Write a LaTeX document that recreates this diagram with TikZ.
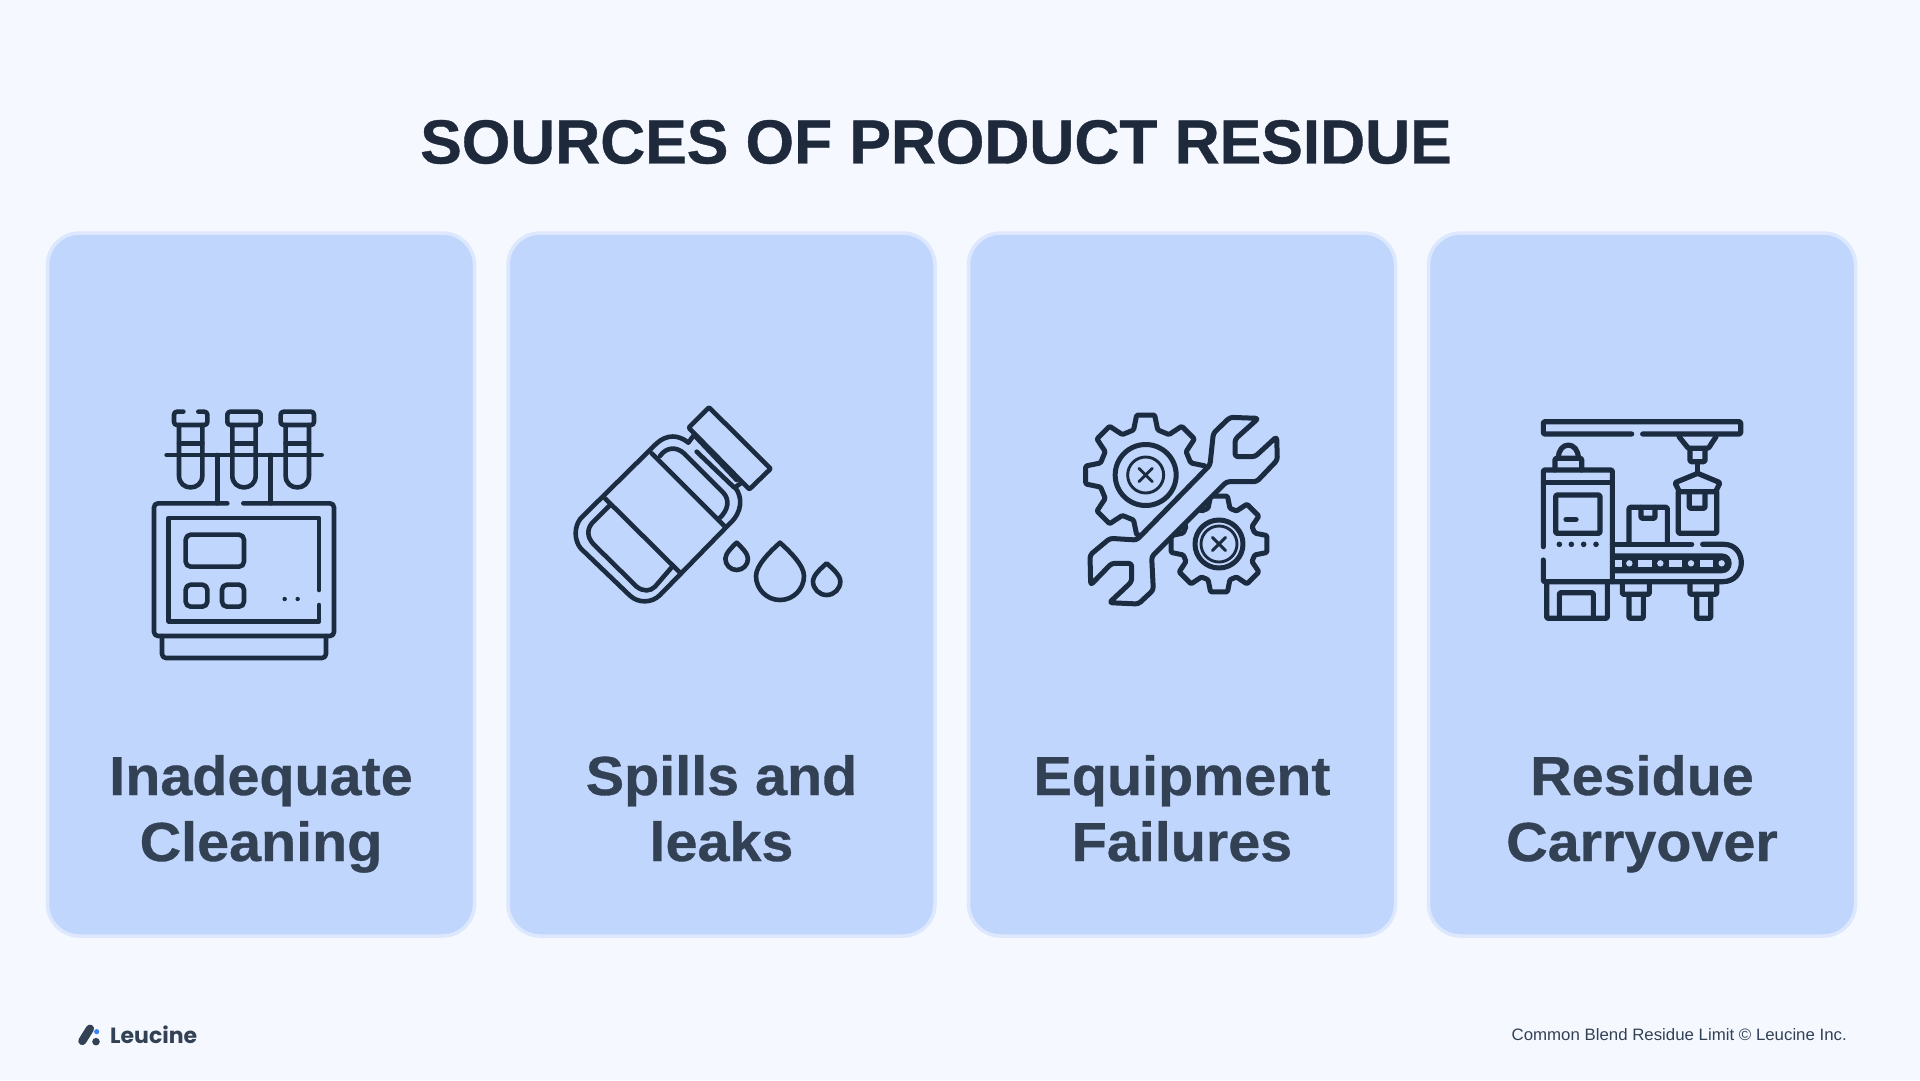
\documentclass[tikz,border=0pt]{standalone}
\usepackage{fontspec}
\setmainfont{Liberation Sans}[FakeStretch=1.02]
\newfontfamily\logofont{Poppins}
\newfontfamily\headfont{Liberation Sans}[BoldFeatures={FakeStretch=1.045,FakeBold=0.6}]
\newfontfamily\titlefont{Liberation Sans}[BoldFeatures={FakeBold=0.6}]
\definecolor{pagebg}{HTML}{F5F9FF}
\definecolor{cardfill}{HTML}{C1D6FD}
\definecolor{cardedge}{HTML}{DDE8FE}
\definecolor{inkdark}{HTML}{1E293B}
\definecolor{inkmid}{HTML}{334155}
\definecolor{iconink}{HTML}{1B2B40}
\definecolor{logoblue}{HTML}{3B82F6}
\tikzset{
  card/.style={draw=cardedge,fill=cardfill,line width=3.5pt,rounded corners=32pt,minimum width=427pt,minimum height=703pt,anchor=center,inner sep=0pt},
  cardlabel/.style={text=inkmid,align=center,font=\headfont\fontsize{55}{66}\selectfont\bfseries,inner sep=0pt,text height=106pt,text depth=0pt},
  iconline/.style={draw=iconink,line width=4.6pt,line cap=round,line join=round},
  thinline/.style={draw=iconink,line width=2.9pt,line cap=round,line join=round},
  zoomed/.style={x=0.33333pt,y=-0.33333pt}
}
% teardrop: centre x, tip y, half width, bottom y
\newcommand{\dropshape}[4]{%
  \pgfmathsetmacro{\dl}{#1-#3}\pgfmathsetmacro{\dr}{#1+#3}%
  \pgfmathsetmacro{\dm}{#4-#3}%
  \pgfmathsetmacro{\dk}{0.55*#3}%
  \pgfmathsetmacro{\dcl}{#1-\dk}\pgfmathsetmacro{\dcr}{#1+\dk}%
  \pgfmathsetmacro{\dbc}{#4-0.45*#3}%
  \pgfmathsetmacro{\dtc}{\dm-0.45*#3}%
  \pgfmathsetmacro{\dtl}{#1-0.4*#3}\pgfmathsetmacro{\dtr}{#1+0.4*#3}%
  \pgfmathsetmacro{\dty}{#2+0.15*(#4-#2)}%
  \draw[iconline] (#1,#2) .. controls (\dtl,\dty) and (\dl,\dtc) .. (\dl,\dm)
    .. controls (\dl,\dbc) and (\dcl,#4) .. (#1,#4)
    .. controls (\dcr,#4) and (\dr,\dbc) .. (\dr,\dm)
    .. controls (\dr,\dtc) and (\dtr,\dty) .. (#1,#2) -- cycle;
}
% gear: centre x,y; tip radius; root radius; tip half angle; base half angle
\newcommand{\gearshape}[6]{%
  \begin{scope}[shift={(#1,#2)}]
  \draw[iconline,line width=5pt,rounded corners=1.2pt] (0-#6:#4)
   \foreach \a in {0,45,...,315}{ -- ({\a-#6}:#4) -- ({\a-#5}:#3) -- ({\a+#5}:#3) -- ({\a+#6}:#4) } -- cycle;
  \end{scope}
}
\begin{document}
\begin{tikzpicture}[x=1pt,y=-1pt]
\useasboundingbox (0,0) rectangle (1920,1080);
\fill[pagebg] (0,0) rectangle (1920,1080);

\node[text=inkdark,inner sep=0pt,font=\titlefont\fontsize{62.3}{70}\selectfont\bfseries] (title) at (936,142) {SOURCES OF PRODUCT RESIDUE};

\node[card] (c1) at (261,584.5) {};
\node[card] (c2) at (721.5,584.5) {};
\node[card] (c3) at (1182,584.5) {};
\node[card] (c4) at (1642,584.5) {};

\node[cardlabel] (l1) at (261,808) {Inadequate\\Cleaning};
\node[cardlabel] (l2) at (721.5,808) {Spills and\\leaks};
\node[cardlabel] (l3) at (1182,808) {Equipment\\Failures};
\node[cardlabel] (l4) at (1642,808) {Residue\\Carryover};

% Icon 1: test tube analyser
\begin{scope}[shift={(130,390)},zoomed]
 \begin{scope}[rounded corners=3pt]
  \draw[iconline] (160,65) -- (132,65) -- (132,105) -- (232,105) -- (232,65) -- (205,65);
  \draw[iconline] (292,65) rectangle (392,105);
  \draw[iconline] (452,65) rectangle (552,105);
 \end{scope}
 \foreach \c in {182,342,502}{
  \draw[iconline] (\c-35,105) -- (\c-35,257) .. controls (\c-35,304) and (\c+35,304) .. (\c+35,257) -- (\c+35,105);
  \draw[iconline] (\c-35,160) -- (\c+35,160);
 }
 \draw[iconline] (110,195) -- (575,195);
 \draw[iconline] (262,195) -- (262,340);
 \draw[iconline] (422,195) -- (422,340);
 \draw[iconline,rounded corners=4pt] (292,340) -- (72,340) -- (72,738) -- (612,738) -- (612,340) -- (340,340);
 \draw[iconline] (567,600) -- (567,384) -- (116,384) -- (116,694) -- (567,694) -- (567,645);
 \draw[iconline,rounded corners=5pt] (167,434) rectangle (342,530);
 \draw[iconline,rounded corners=5pt] (167,584) rectangle (232,650);
 \draw[iconline,rounded corners=5pt] (276,584) rectangle (342,650);
 \fill[iconink] (464,627) circle[radius=2.2pt] (503,627) circle[radius=2.2pt];
 \draw[iconline,rounded corners=4pt] (96,738) -- (96,804) -- (588,804) -- (588,738);
\end{scope}

% Icon 2: spilling bottle
\begin{scope}[shift={(560,390)},zoomed]
 \draw[iconline,rounded corners=1pt] (447,52) -- (632,236) -- (568,298) -- (386,113) -- cycle;
 \draw[iconline] (402,135) -- (385,158) .. controls (355,133) and (320,133) .. (290,160) -- (62,385) .. controls (42,410) and (42,450) .. (62,475) -- (210,617) .. controls (235,640) and (275,640) .. (300,615) -- (510,400) .. controls (548,365) and (548,320) .. (525,292) -- (545,278);
 \draw[iconline] (402,135) -- (530,270);
 \draw[iconline] (410,185) -- (522,292);
 \draw[iconline] (300,198) .. controls (320,170) and (350,170) .. (372,190) -- (490,308) .. controls (510,330) and (505,360) .. (478,385);
 \draw[iconline] (150,345) -- (100,395) .. controls (80,415) and (80,440) .. (100,462) -- (230,590) .. controls (250,605) and (270,605) .. (285,590) -- (335,532);
 \draw[iconline] (275,190) -- (495,410);
 \draw[iconline] (135,325) -- (360,548);
 \dropshape{530}{458}{34}{540}
 \dropshape{660}{458}{72}{630}
 \dropshape{800}{520}{41}{615}
\end{scope}

% Icon 3: gears and wrench
\begin{scope}[shift={(1070,400)},zoomed]
 \begin{scope}
  \clip (500,113) -- (100,522) -- (-100,522) -- (-100,-100) -- (500,-100) -- cycle;
  \gearshape{227}{225}{182}{140}{8.5}{15}
 \end{scope}
 \begin{scope}
  \clip (600,115) -- (100,615) -- (700,700) -- (700,115) -- cycle;
  \gearshape{447}{432}{146}{112}{10}{17}
 \end{scope}
 \draw[iconline,line width=5pt] (227,225) circle[radius=30.5pt];
 \draw[thinline] (227,225) circle[radius=18pt];
 \draw[thinline] (207,205) -- (247,245) (207,245) -- (247,205);
 \draw[iconline,line width=5pt] (447,432) circle[radius=24pt];
 \draw[thinline] (447,432) circle[radius=18pt];
 \draw[thinline] (427,412) -- (467,452) (427,452) -- (467,412);
 \draw[iconline,line width=5pt,rounded corners=3pt] (565,55) -- (480,52) -- (430,100) -- (420,195) -- (200,420) -- (120,415) -- (60,465) -- (62,555) -- (125,490) -- (185,490) -- (185,545) -- (118,608) -- (205,612) -- (250,570) -- (245,470) -- (470,245) -- (560,245) -- (622,180) -- (620,110) -- (555,170) -- (495,170) -- (495,118) -- cycle;
\end{scope}

% Icon 4: conveyor line
\begin{scope}[shift={(1530,410)},zoomed]
 \begin{scope}[every path/.append style={iconline,line width=5.2pt,rounded corners=1.2pt}]
 \draw (305,72) -- (40,72) -- (40,35) -- (632,35) -- (632,72) -- (338,72);
 \draw (447,80) -- (475,115) -- (535,115) -- (558,80);
 \draw (480,115) -- (480,155) -- (525,155) -- (525,115);
 \draw (503,155) -- (503,190);
 \draw (503,190) -- (570,218) -- (557,245) -- (448,245) -- (435,218) -- cycle;
 \draw (445,245) -- (445,370) -- (560,370) -- (560,245);
 \draw (478,245) -- (478,295) -- (525,295) -- (525,245);
 \draw (297,400) -- (297,292) -- (412,292) -- (412,400);
 \draw (333,292) -- (333,325) -- (375,325) -- (375,292);
 \draw (40,410) -- (40,180) -- (247,180) -- (247,515);
 \draw (40,218) -- (247,218);
 \draw (40,450) -- (40,515) -- (578,515);
 \draw (75,180) -- (75,145) -- (155,145) -- (155,180);
 \draw (85,145) .. controls (85,92) and (145,92) .. (145,145);
 \draw (77,255) rectangle (210,370);
 \draw (108,328) -- (138,328);
 \draw (247,403) -- (485,403);
 \draw (518,403) -- (578,403) .. controls (652,403) and (652,515) .. (578,515);
 \draw (50,515) -- (50,625) -- (232,625) -- (232,515);
 \draw (88,625) -- (88,548) -- (190,548) -- (190,625);
 \draw (277,515) -- (277,553) -- (358,553) -- (358,515);
 \draw (297,553) -- (297,625) -- (340,625) -- (340,553);
 \draw (480,515) -- (480,553) -- (560,553) -- (560,515);
 \draw (500,553) -- (500,625) -- (542,625) -- (542,553);
 \end{scope}
 \fill[iconink] (88,403) circle[radius=2.8pt] (124,403) circle[radius=2.8pt] (161,403) circle[radius=2.8pt] (198,403) circle[radius=2.8pt];
 \fill[iconink] (247,430) -- (575,430) .. controls (615,430) and (615,490) .. (575,490) -- (247,490) -- cycle;
 \foreach \xa/\xb in {255/275,325/365,418/457,510/550}{
  \fill[cardfill] (\xa,449) rectangle (\xb,471);
 }
 \foreach \c in {298,391,483,575}{
  \fill[cardfill] (\c,460) circle[radius=3.2pt];
 }
\end{scope}

% Footer
\begin{scope}[shift={(60,1010)},zoomed]
 \draw[inkmid,line width=8.2pt,line cap=round] (90,56) -- (67,93);
 \fill[logoblue] (110,65) circle[radius=2.6pt];
 \fill[inkmid] (108,95) circle[radius=3.8pt];
\end{scope}
\node[anchor=west,text=inkmid,inner sep=0pt,font=\logofont\fontsize{22}{24}\selectfont\bfseries] (logo) at (110,1035) {Leucine};
\node[anchor=east,text=inkmid,inner sep=0pt,font=\fontsize{16.5}{20}\selectfont] (foot) at (1847,1035) {Common Blend Residue Limit © Leucine Inc.};
\end{tikzpicture}
\end{document}
